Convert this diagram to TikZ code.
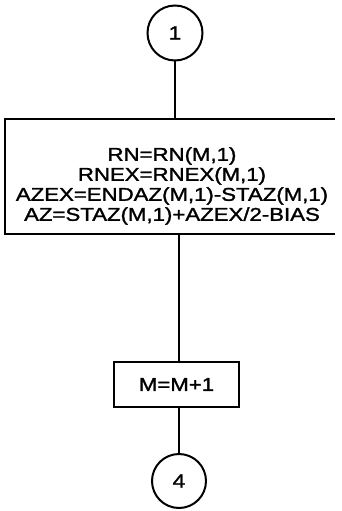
\documentclass[tikz,border=0pt]{standalone}
\usepackage{fontspec}
\setmainfont{Liberation Sans}[FakeStretch=1.2,FakeBold=1.5]
\begin{document}
\begin{tikzpicture}[x=1pt,y=-1pt,
  line width=2pt,
  conn/.style={circle,draw,minimum size=55pt,inner sep=0pt,font=\fontsize{19}{20}\selectfont},
  procbox/.style={rectangle,inner sep=0pt,align=center,font=\fontsize{18.5}{20}\selectfont},
  link/.style={draw}]
\useasboundingbox (0,0) rectangle (341,511);
\node[conn] (c1) at (175,33) {1};
\node[rectangle,minimum width=328pt,minimum height=113pt,inner sep=0pt] (b1) at (170,176.5) {};
\node[procbox] (b1t) at (172,186)
  {RN=RN(M,1)\\RNEX=RNEX(M,1)\\AZEX=ENDAZ(M,1)-STAZ(M,1)\\AZ=STAZ(M,1)+AZEX/2-BIAS};
\draw (b1.north east) -- (b1.north west) -- (b1.south west) -- (b1.south east);
\node[procbox,draw,minimum width=125pt,minimum height=45pt] (b2) at (176.5,384.5) {M=M+1};
\node[conn,minimum size=54pt] (c4) at (179,481) {4};
\draw[link] (c1.south) -- (c1.south |- b1.north);
\draw[link] (b1.south -| c4.north) -- (b2.north -| c4.north);
\draw[link] (b2.south -| c4.north) -- (c4.north);
\end{tikzpicture}
\end{document}
